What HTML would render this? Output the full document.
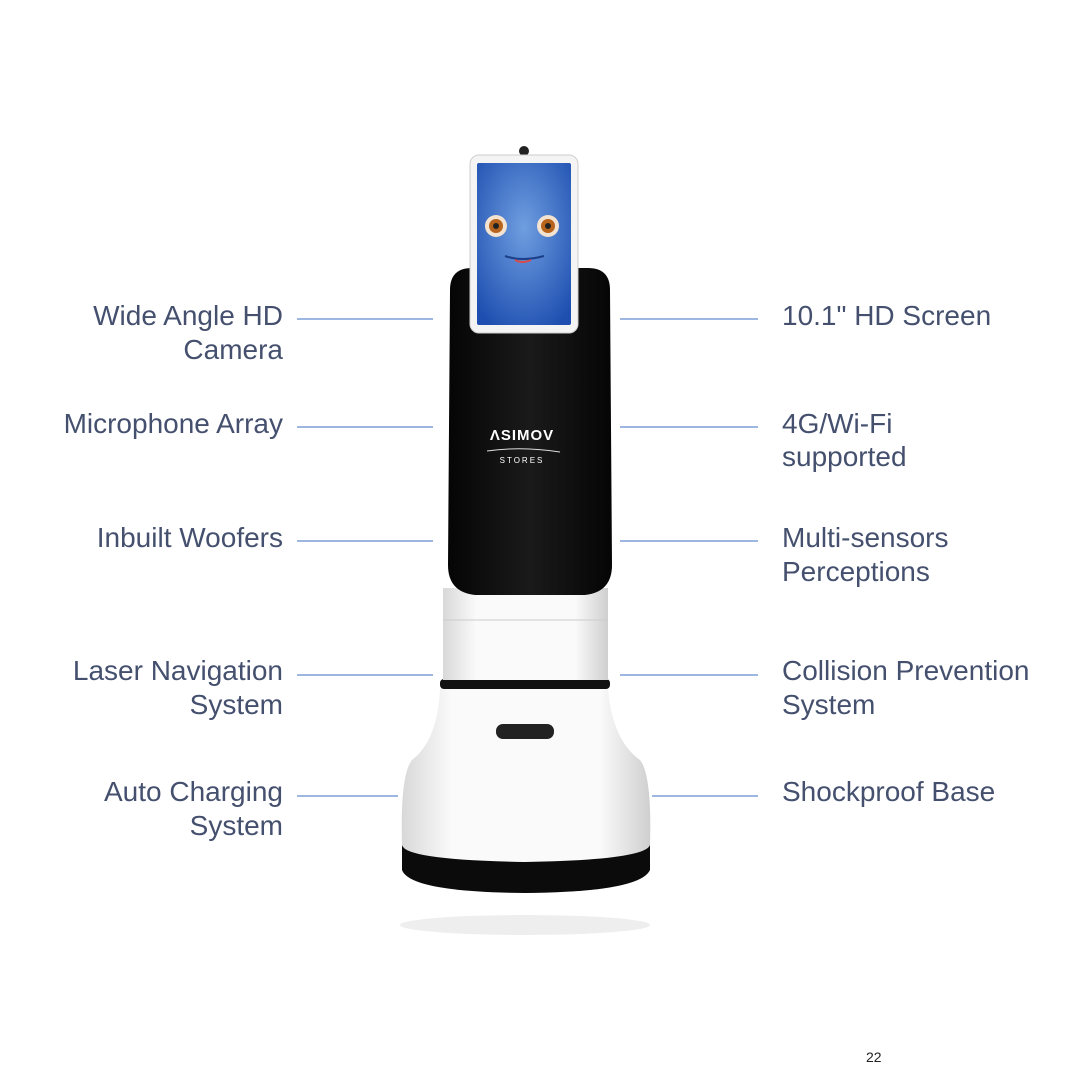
<!DOCTYPE html>
<html><head><meta charset="utf-8"><style>
body{margin:0;width:1080px;height:1080px;background:#fff;overflow:hidden}
svg{display:block}
text{font-family:"Liberation Sans",sans-serif;font-size:28px;fill:#44506e}
</style></head><body>
<svg width="1080" height="1080" viewBox="0 0 1080 1080">
<defs>
<radialGradient id="scr" cx="50%" cy="40%" r="70%"><stop offset="0" stop-color="#6f9ee0"/><stop offset="1" stop-color="#1e4fb0"/></radialGradient>
<linearGradient id="wh" x1="0" x2="1"><stop offset="0" stop-color="#d8d8d8"/><stop offset=".2" stop-color="#fafafa"/><stop offset=".8" stop-color="#fafafa"/><stop offset="1" stop-color="#cfcfcf"/></linearGradient>
<linearGradient id="bk" x1="0" x2="1"><stop offset="0" stop-color="#050505"/><stop offset=".5" stop-color="#1a1a1a"/><stop offset="1" stop-color="#050505"/></linearGradient>
</defs>
<g stroke="#7f9fd6" stroke-width="1.5">
<line x1="297" y1="319" x2="433" y2="319"/><line x1="297" y1="427" x2="433" y2="427"/>
<line x1="297" y1="541" x2="433" y2="541"/><line x1="297" y1="675" x2="433" y2="675"/>
<line x1="297" y1="796" x2="398" y2="796"/>
<line x1="620" y1="319" x2="758" y2="319"/><line x1="620" y1="427" x2="758" y2="427"/>
<line x1="620" y1="541" x2="758" y2="541"/><line x1="620" y1="675" x2="758" y2="675"/>
<line x1="652" y1="796" x2="758" y2="796"/>
</g>
<g text-anchor="end">
<text x="283" y="325">Wide Angle HD</text><text x="283" y="359">Camera</text>
<text x="283" y="433">Microphone Array</text>
<text x="283" y="547">Inbuilt Woofers</text>
<text x="283" y="680">Laser Navigation</text><text x="283" y="714">System</text>
<text x="283" y="801">Auto Charging</text><text x="283" y="835">System</text>
</g>
<text x="782" y="325">10.1" HD Screen</text>
<text x="782" y="433">4G/Wi-Fi</text><text x="782" y="466">supported</text>
<text x="782" y="547">Multi-sensors</text><text x="782" y="581">Perceptions</text>
<text x="782" y="680">Collision Prevention</text><text x="782" y="714">System</text>
<text x="782" y="801">Shockproof Base</text>
<text x="866" y="1062" style="font-size:14px;fill:#222">22</text>
<ellipse cx="525" cy="925" rx="125" ry="10" fill="#eee"/>
<path d="M402 840 L650 840 L650 870 Q640 892 525 893 Q410 892 402 870 Z" fill="#0b0b0b"/>
<path d="M440 688 L608 688 Q612 740 640 760 Q652 775 650 845 Q645 860 525 862 Q405 860 402 845 Q400 775 412 760 Q438 740 440 688 Z" fill="url(#wh)"/>
<rect x="440" y="679" width="170" height="10" rx="4" fill="#111"/>
<rect x="443" y="588" width="165" height="92" fill="url(#wh)"/>
<line x1="443" y1="620" x2="608" y2="620" stroke="#ccc"/>
<rect x="496" y="724" width="58" height="15" rx="7" fill="#222"/>
<path d="M450 290 Q450 268 472 268 L588 268 Q610 268 610 290 L612 565 Q612 592 585 595 L475 595 Q448 592 448 565 Z" fill="url(#bk)"/>
<text x="522" y="440" text-anchor="middle" style="font-size:15px;fill:#fff;font-weight:bold;letter-spacing:1px">ΛSIMOV</text>
<path d="M487 451 Q522 446 560 452" stroke="#ddd" fill="none"/>
<text x="522" y="463" text-anchor="middle" style="font-size:8px;fill:#fff;letter-spacing:2px">STORES</text>
<circle cx="524" cy="151" r="5" fill="#222"/>
<rect x="470" y="155" width="108" height="178" rx="9" fill="#f4f4f4" stroke="#ccc"/>
<rect x="477" y="163" width="94" height="162" rx="2" fill="url(#scr)"/>
<circle cx="496" cy="226" r="11" fill="#f3e3d0"/><circle cx="496" cy="226" r="7" fill="#b8641c"/><circle cx="496" cy="226" r="3" fill="#222"/>
<circle cx="548" cy="226" r="11" fill="#f3e3d0"/><circle cx="548" cy="226" r="7" fill="#b8641c"/><circle cx="548" cy="226" r="3" fill="#222"/>
<path d="M505 256 Q522 262 544 256" stroke="#1b3f88" stroke-width="2" fill="none"/>
<path d="M515 260 Q522 264 531 260" stroke="#d94a4a" stroke-width="2" fill="none"/>
</svg>
</body></html>
